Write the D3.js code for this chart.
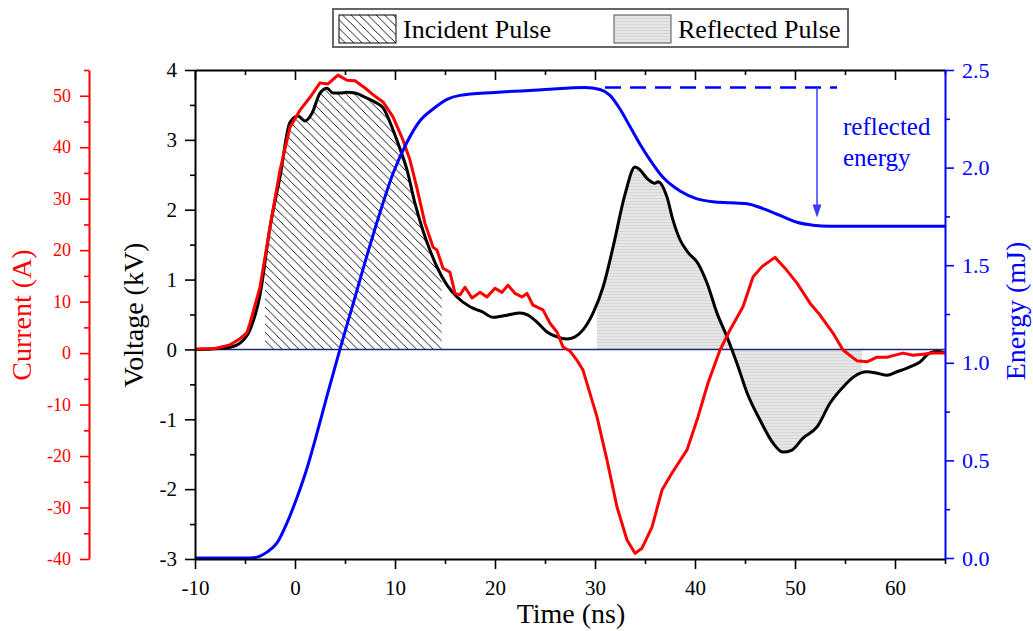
<!DOCTYPE html>
<html><head><meta charset="utf-8">
<script src="https://cdn.jsdelivr.net/npm/d3@7"></script>
<style>
html,body{margin:0;padding:0;background:#fff;}
svg{display:block;font-family:"Liberation Serif","Times New Roman",serif;}
svg text{font-family:"Liberation Serif","Times New Roman",serif;}
</style></head><body>
<svg id="chart" width="1033" height="631"></svg>
<script>
// ---------- DATA ----------
const voltageTime = [-10,-8,-6.5,-5.5,-4.5,-3.5,-2.5,-1.5,-0.5,0.3,1.0,1.7,2.5,3.2,3.8,4.5,5.2,6.0,7.0,8.0,8.8,9.7,10.3,11.2,12.0,12.8,13.5,14.2,15.2,16.2,17.5,18.7,19.8,21.2,22.5,23.3,24.2,25.2,26.2,27.2,28.0,28.8,29.8,30.8,31.8,33.0,34.0,34.5,35.2,36.0,36.3,37.2,37.8,38.5,39.3,40.3,41.2,42.2,43.2,44.2,45.2,46.5,47.8,48.8,49.7,50.8,52.2,53.5,54.8,55.8,57.2,58.2,59.2,60.2,61.5,62.5,63.5,64.3,65];
const voltage = [0.0,0.01,0.03,0.09,0.28,0.78,1.75,2.47,3.25,3.34,3.27,3.38,3.67,3.74,3.67,3.67,3.68,3.67,3.61,3.54,3.46,3.18,2.95,2.57,2.09,1.70,1.42,1.18,0.92,0.75,0.61,0.54,0.46,0.49,0.52,0.49,0.39,0.25,0.18,0.15,0.18,0.28,0.52,0.89,1.46,2.22,2.61,2.57,2.45,2.38,2.40,2.18,1.85,1.57,1.39,1.23,0.95,0.52,0.18,-0.20,-0.62,-1.01,-1.34,-1.47,-1.44,-1.27,-1.11,-0.77,-0.54,-0.40,-0.32,-0.34,-0.37,-0.32,-0.25,-0.18,-0.05,-0.03,-0.05];

const currentTime = [-10,-8,-6.5,-5.5,-4.8,-4.5,-3.5,-2.5,-1.5,-0.5,0.5,1.5,2.5,3.3,4.3,5.2,6.0,7.0,7.8,8.8,9.8,10.8,11.5,12.2,13.0,13.8,14.2,14.8,15.5,16.0,16.5,17.0,17.7,18.5,19.2,20.0,20.7,21.3,22.0,22.7,23.2,23.8,24.8,25.5,26.2,26.8,27.5,28.2,28.8,30.2,31.2,32.2,33.2,34.0,34.7,35.7,36.7,37.7,39.2,40.3,41.3,42.5,43.5,44.8,45.8,46.7,48.0,49.0,50.2,51.5,52.5,53.8,54.8,56.2,57.2,58.2,59.2,60.0,60.8,61.8,62.8,63.8,65];
const current = [0.8,0.9,1.6,2.8,4.0,5.8,12.8,24.5,35.5,43.9,47.2,49.7,52.5,52.3,54.0,53.0,52.9,51.5,50.2,48.8,45.9,41.4,37.5,32.0,25.2,20.6,20.0,16.5,15.7,11.6,11.3,12.8,10.7,11.8,10.9,12.6,11.8,13.2,11.6,10.9,11.6,9.3,8.4,5.8,4.1,1.2,0.4,-1.4,-3.3,-12.4,-20.8,-29.9,-36.3,-38.9,-37.9,-33.8,-26.6,-23.3,-18.8,-12.4,-5.8,0.6,4.5,9.0,14.8,16.8,18.6,16.5,13.6,9.7,7.4,3.9,0.6,-1.5,-1.7,-0.8,-0.8,-0.4,0.0,-0.4,-0.2,0.0,0.0];

const energyTime = [-10,-4.5,-3.5,-2.8,-1.8,-0.8,0.2,1.2,2.2,3.2,4.5,5.8,7.2,8.5,9.8,11.2,12.5,13.8,15.2,16.5,20,25,29,30.5,31.5,32.5,33.5,34.5,35.5,36.8,38.5,40.2,41.8,43.5,45.2,46.8,48.5,50.2,51.8,53.5,56.8,65];
const energy = [0,0,0.01,0.03,0.077,0.18,0.31,0.46,0.64,0.83,1.07,1.30,1.55,1.77,1.97,2.13,2.24,2.30,2.35,2.37,2.385,2.40,2.41,2.40,2.37,2.30,2.21,2.12,2.04,1.95,1.88,1.84,1.825,1.82,1.815,1.79,1.755,1.72,1.705,1.70,1.70,1.70];

const incidentRange = [-3, 14.67];
const reflectedRange = [30.2, 56.7];

const timeTicks = [-10,0,10,20,30,40,50,60];
const timeTickLabels = ["-10","0","10","20","30","40","50","60"];
const timeMinor = [-5,5,15,25,35,45,55,65];
const voltageTicks = [-3,-2,-1,0,1,2,3,4];
const voltageTickLabels = ["-3","-2","-1","0","1","2","3","4"];
const voltageMinor = [-2.5,-1.5,-0.5,0.5,1.5,2.5,3.5];
const currentTicks = [-40,-30,-20,-10,0,10,20,30,40,50];
const currentTickLabels = ["-40","-30","-20","-10","0","10","20","30","40","50"];
const currentMinor = [-35,-25,-15,-5,5,15,25,35,45,55];
const energyTicks = [0,0.5,1.0,1.5,2.0,2.5];
const energyTickLabels = ["0.0","0.5","1.0","1.5","2.0","2.5"];
const energyMinor = [0.25,0.75,1.25,1.75,2.25];

// annotation: reflected energy (time, energy)
const annoDashT = [31, 54.2];
const annoDashE = 2.41;
const annoArrowT = 52.2;
const annoArrowE = [2.41, 1.745];
const annoText = ["reflected","energy"];
const annoTextT = 54.8;
const annoTextE = [2.167, 2.008];

const legendLabels = ["Incident Pulse","Reflected Pulse"];

// ---------- CHART ----------
const FONT = '"Liberation Serif","Times New Roman",serif';
const svg = d3.select("#chart");
const L = 195, R = 945, T = 70, B = 559;
const x = d3.scaleLinear().domain([-10,65]).range([L,R]);
const yV = d3.scaleLinear().domain([-3,4]).range([B,T]);
const yI = d3.scaleLinear().domain([-40,55]).range([B,T]);
const yE = d3.scaleLinear().domain([0,2.5]).range([558,T]);

const defs = svg.append("defs");
const s = 8.4;
const hatch = defs.append("pattern").attr("id","hatch").attr("patternUnits","userSpaceOnUse")
  .attr("width",s).attr("height",s);
hatch.append("path")
  .attr("d",`M0,0 L${s},${s} M${-s/2},${s/2} L${s/2},${s*1.5} M${s/2},${-s/2} L${s*1.5},${s/2}`)
  .attr("stroke","#000").attr("stroke-width",0.9).attr("fill","none");
const gray = defs.append("pattern").attr("id","grayfill").attr("patternUnits","userSpaceOnUse")
  .attr("width",4).attr("height",3);
gray.append("rect").attr("width",4).attr("height",3).attr("fill","#e6e6e6");
gray.append("rect").attr("width",4).attr("height",1).attr("fill","#d6d6d6");

defs.append("clipPath").attr("id","clipInc").append("rect")
  .attr("x",x(incidentRange[0])).attr("y",T).attr("width",x(incidentRange[1])-x(incidentRange[0])).attr("height",B-T);
defs.append("clipPath").attr("id","clipRef").append("rect")
  .attr("x",x(reflectedRange[0])).attr("y",T).attr("width",x(reflectedRange[1])-x(reflectedRange[0])).attr("height",B-T);

const vData = voltageTime.map((t,i)=>[t,voltage[i]]);
const iData = currentTime.map((t,i)=>[t,current[i]]);
const eData = energyTime.map((t,i)=>[t,energy[i]]);

const area = d3.area().x(d=>x(d[0])).y0(yV(0)).y1(d=>yV(d[1])).curve(d3.curveMonotoneX);
svg.append("path").datum(vData).attr("d",area).attr("fill","url(#hatch)").attr("clip-path","url(#clipInc)");
svg.append("path").datum(vData).attr("d",area).attr("fill","url(#grayfill)").attr("clip-path","url(#clipRef)");

// zero line
svg.append("line").attr("x1",L).attr("x2",R).attr("y1",yV(0)).attr("y2",yV(0))
  .attr("stroke","#1f2a78").attr("stroke-width",1.6);

// curves
const lineV = d3.line().x(d=>x(d[0])).y(d=>yV(d[1])).curve(d3.curveMonotoneX);
const lineI = d3.line().x(d=>x(d[0])).y(d=>yI(d[1])).curve(d3.curveLinear);
const lineE = d3.line().x(d=>x(d[0])).y(d=>yE(d[1])).curve(d3.curveMonotoneX);
svg.append("path").datum(vData).attr("d",lineV).attr("fill","none").attr("stroke","#000").attr("stroke-width",3).attr("stroke-linejoin","round");
svg.append("path").datum(iData).attr("d",lineI).attr("fill","none").attr("stroke","#ff0000").attr("stroke-width",3).attr("stroke-linejoin","round");
svg.append("path").datum(eData).attr("d",lineE).attr("fill","none").attr("stroke","#0000ff").attr("stroke-width",3).attr("stroke-linejoin","round");

// annotation
svg.append("line").attr("x1",x(annoDashT[0])).attr("x2",x(annoDashT[1]))
  .attr("y1",yE(annoDashE)).attr("y2",yE(annoDashE))
  .attr("stroke","#0000ff").attr("stroke-width",2.4).attr("stroke-dasharray","16,9");
const ax = x(annoArrowT), ay1 = yE(annoArrowE[0]), ay2 = yE(annoArrowE[1]);
svg.append("line").attr("x1",ax).attr("x2",ax).attr("y1",ay1).attr("y2",ay2-11)
  .attr("stroke","#3a3aff").attr("stroke-width",1.5);
svg.append("path").attr("d",`M${ax-4.5},${ay2-13} L${ax+4.5},${ay2-13} L${ax},${ay2} Z`).attr("fill","#3a3aff");
annoText.forEach((tx,i)=>{
  svg.append("text").attr("x",x(annoTextT)).attr("y",yE(annoTextE[i])).text(tx)
    .attr("fill","#0000ff").attr("font-size",25).attr("font-family",FONT);
});

// axes helper
function styleAxis(g, color, fs){
  g.attr("font-family",FONT).attr("font-size",fs);
  g.selectAll("path.domain").attr("stroke",color).attr("stroke-width",2);
  g.selectAll(".tick line").attr("stroke",color).attr("stroke-width",1.6);
  g.selectAll(".tick text").attr("fill",color).attr("font-size",fs).attr("font-family",FONT);
}
let g;
// bottom
g = svg.append("g").attr("transform",`translate(0,${B})`)
  .call(d3.axisBottom(x).tickValues(timeMinor).tickSize(5).tickFormat("").tickSizeOuter(0));
styleAxis(g,"#000",21); g.select("path.domain").remove();
g = svg.append("g").attr("transform",`translate(0,${B})`)
  .call(d3.axisBottom(x).tickValues(timeTicks).tickSize(10).tickPadding(11).tickSizeOuter(0)
  .tickFormat((d,i)=>timeTickLabels[i]));
styleAxis(g,"#000",21);
// top
g = svg.append("g").attr("transform",`translate(0,${T})`)
  .call(d3.axisBottom(x).tickValues(timeMinor).tickSize(5).tickFormat("").tickSizeOuter(0));
styleAxis(g,"#000",21); g.select("path.domain").remove();
g = svg.append("g").attr("transform",`translate(0,${T})`)
  .call(d3.axisBottom(x).tickValues(timeTicks).tickSize(10).tickFormat("").tickSizeOuter(0));
styleAxis(g,"#000",21);
// left voltage
g = svg.append("g").attr("transform",`translate(${L},0)`)
  .call(d3.axisLeft(yV).tickValues(voltageMinor).tickSize(5).tickFormat("").tickSizeOuter(0));
styleAxis(g,"#000",21); g.select("path.domain").remove();
g = svg.append("g").attr("transform",`translate(${L},0)`)
  .call(d3.axisLeft(yV).tickValues(voltageTicks).tickSize(10).tickPadding(8).tickSizeOuter(0)
  .tickFormat((d,i)=>voltageTickLabels[i]));
styleAxis(g,"#000",21);
// current axis
const CX = 89;
g = svg.append("g").attr("transform",`translate(${CX},0)`)
  .call(d3.axisLeft(yI).tickValues(currentMinor).tickSize(5).tickFormat("").tickSizeOuter(0));
styleAxis(g,"#ff0000",18); g.select("path.domain").remove();
g = svg.append("g").attr("transform",`translate(${CX},0)`)
  .call(d3.axisLeft(yI).tickValues(currentTicks).tickSize(9).tickPadding(9).tickSizeOuter(0)
  .tickFormat((d,i)=>currentTickLabels[i]));
styleAxis(g,"#ff0000",18);
// energy axis
g = svg.append("g").attr("transform",`translate(${R},0)`)
  .call(d3.axisRight(yE).tickValues(energyMinor).tickSize(5).tickFormat("").tickSizeOuter(0));
styleAxis(g,"#0000ff",22); g.select("path.domain").remove();
g = svg.append("g").attr("transform",`translate(${R},0)`)
  .call(d3.axisRight(yE).tickValues(energyTicks).tickSize(9).tickPadding(8).tickSizeOuter(0)
  .tickFormat((d,i)=>energyTickLabels[i]));
styleAxis(g,"#0000ff",22);
g.select("path.domain").attr("d",`M0.5,${T}V${B}`);

// titles
function title(txt, tr, color, anchorAttrs){
  const t = svg.append("text").attr("text-anchor","middle").attr("fill",color)
    .attr("font-size",28).attr("font-family",FONT).text(txt);
  if (tr) t.attr("transform",tr);
  if (anchorAttrs) t.attr("x",anchorAttrs[0]).attr("y",anchorAttrs[1]);
}
title("Current (A)", "translate(31,315) rotate(-90)", "#ff0000");
title("Voltage (kV)", "translate(143,315) rotate(-90)", "#000");
title("Energy (mJ)", "translate(1025,311) rotate(-90)", "#0000ff");
title("Time (ns)", null, "#000", [571,623]);

// legend
const lg = svg.append("g").attr("font-family",FONT);
lg.append("rect").attr("x",333).attr("y",9).attr("width",515).attr("height",38)
  .attr("fill","#fff").attr("stroke","#666").attr("stroke-width",2);
lg.append("rect").attr("x",339).attr("y",15).attr("width",57).attr("height",28)
  .attr("fill","url(#hatch)").attr("stroke","#000").attr("stroke-width",1);
lg.append("text").attr("x",403).attr("y",38).attr("font-size",26).attr("font-family",FONT).text(legendLabels[0]);
lg.append("rect").attr("x",614).attr("y",15).attr("width",57).attr("height",28)
  .attr("fill","url(#grayfill)").attr("stroke","#555").attr("stroke-width",1);
lg.append("text").attr("x",678).attr("y",38).attr("font-size",26).attr("font-family",FONT).text(legendLabels[1]);
</script>
</body></html>
